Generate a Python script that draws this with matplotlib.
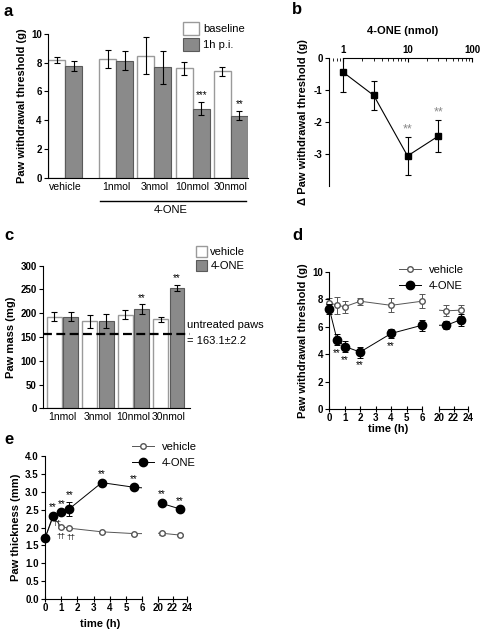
import numpy as np
import matplotlib
matplotlib.use("Agg")
import matplotlib.pyplot as plt
from matplotlib.lines import Line2D

plt.rcParams['font.family'] = ['Liberation Sans', 'DejaVu Sans']
plt.rcParams['font.size'] = 8

W, H = 480, 632

# ---- panel a: withdrawal threshold, baseline vs 1h p.i.
a_groups = ["vehicle", "1nmol", "3nmol", "10nmol", "30nmol"]
a_base = [8.2, 8.25, 8.5, 7.6, 7.4]
a_base_err = [0.2, 0.65, 1.3, 0.45, 0.3]
a_post = [7.8, 8.15, 7.7, 4.8, 4.3]
a_post_err = [0.35, 0.65, 1.15, 0.45, 0.3]
a_stars = ["", "", "", "***", "**"]

# ---- panel b: dose response
b_dose = [1, 3, 10, 30]
b_delta = [-0.45, -1.18, -3.07, -2.45]
b_err = [0.63, 0.46, 0.6, 0.51]
b_stars = ["", "", "**", "**"]

# ---- panel c: paw mass
c_groups = ["1nmol", "3nmol", "10nmol", "30nmol"]
c_vehicle = [193, 183, 197, 187]
c_vehicle_err = [9, 14, 9, 5]
c_one = [193, 183, 209, 253]
c_one_err = [9, 15, 10, 7]
c_stars = ["", "", "**", "**"]
c_untreated = 157

# ---- panel d: time course threshold
d_time = [0, 0.5, 1, 2, 4, 6, 21, 23]
d_vehicle = [7.75, 7.55, 7.45, 7.85, 7.55, 7.85, 7.15, 7.2]
d_vehicle_err = [0.3, 0.6, 0.45, 0.25, 0.5, 0.5, 0.4, 0.4]
d_one = [7.3, 5.05, 4.55, 4.15, 5.5, 6.1, 6.1, 6.5]
d_one_err = [0.35, 0.4, 0.4, 0.4, 0.35, 0.4, 0.3, 0.45]
d_stars = ["", "**", "**", "**", "**", "", "", ""]

# ---- panel e: paw thickness
e_time = [0, 0.5, 1, 1.5, 3.5, 5.5, 20.5, 23]
e_vehicle = [1.7, 2.3, 2.02, 1.98, 1.88, 1.83, 1.84, 1.79]
e_vehicle_err = [0.03, 0.03, 0.03, 0.03, 0.03, 0.03, 0.04, 0.03]
e_one = [1.7, 2.33, 2.43, 2.52, 3.25, 3.12, 2.67, 2.52]
e_one_err = [0.05, 0.05, 0.05, 0.2, 0.05, 0.05, 0.08, 0.05]
e_stars = ["", "**", "**", "**", "**", "**", "**", "**"]
e_dagger_t = [0.72, 1.0, 1.58]
e_dagger_y = [2.1, 1.75, 1.71]

fig = plt.figure(figsize=(W / 100, H / 100), dpi=100)


def px_axes(l, t, r, b):
    return fig.add_axes([l / W, 1 - b / H, (r - l) / W, (b - t) / H])


def style(ax):
    for s in ["top", "right"]:
        ax.spines[s].set_visible(False)
    for s in ["left", "bottom"]:
        ax.spines[s].set_linewidth(0.8)
    ax.tick_params(direction="out", length=3, width=0.8, pad=1.5)
    for lab in ax.get_yticklabels():
        lab.set_fontweight("bold")
        lab.set_fontsize(7)


WHITE_EDGE = "#9a9a9a"
GRAY = "#8a8a8a"
GRAY_EDGE = "#5a5a5a"

# ======== a ========
ax = px_axes(48, 34, 248, 177.5)
start = np.array([0, 3, 5.25, 7.5, 9.75])
ax.bar(start + 0.5, a_base, width=1, color="white", edgecolor=WHITE_EDGE, linewidth=1, label="baseline")
ax.bar(start + 1.5, a_post, width=1, color=GRAY, edgecolor=GRAY_EDGE, linewidth=0.8, label="1h p.i.")
ax.errorbar(start + 0.5, a_base, yerr=a_base_err, fmt="none", ecolor="black", elinewidth=0.8, capsize=2.5, capthick=0.8)
ax.errorbar(start + 1.5, a_post, yerr=a_post_err, fmt="none", ecolor="black", elinewidth=0.8, capsize=2.5, capthick=0.8)
for i, s in enumerate(a_stars):
    if s:
        ax.text(start[i] + 1.5, a_post[i] + a_post_err[i] + 0.15, s, ha="center", va="bottom", fontsize=7)
ax.set_xlim(0, 11.75)
ax.set_ylim(0, 10)
ax.set_yticks([0, 2, 4, 6, 8, 10])
ax.set_xticks(start + 1)
ax.set_xticklabels(a_groups, fontsize=7.5)
style(ax)
ax.tick_params(axis="x", length=0, pad=3)
ax.set_ylabel("Paw withdrawal threshold (g)", fontweight="bold", fontsize=8, labelpad=3)
fig.legend(*ax.get_legend_handles_labels(), loc="upper left", bbox_to_anchor=(183 / W, 1 - 22 / H),
           frameon=False, fontsize=8, handlelength=1.4, handleheight=1.4, borderaxespad=0, borderpad=0,
           handletextpad=0.4, labelspacing=0.3)
fig.add_artist(Line2D([100 / W, 246 / W], [1 - 201 / H, 1 - 201 / H], color="black", linewidth=1))
fig.text(171 / W, 1 - 210 / H, "4-ONE", ha="center", va="center", fontsize=8)

# ======== b ========
ax = px_axes(329, 57.7, 476, 185.7)
ax.errorbar(b_dose, b_delta, yerr=b_err, fmt="-s", color="black", markersize=4.5, linewidth=0.8,
            elinewidth=0.8, capsize=2.5, capthick=0.8)
for x, y, e, s in zip(b_dose, b_delta, b_err, b_stars):
    if s:
        ax.text(x, y + e + 0.05, s, ha="center", va="bottom", fontsize=9, color="#888888")
ax.set_xscale("log")
ax.set_xlim(0.607, 115)
ax.set_ylim(-4, 0)
ax.spines["right"].set_visible(False)
ax.spines["bottom"].set_visible(False)
ax.spines["top"].set_bounds(1, 100)
ax.spines["left"].set_bounds(-4, 0)
ax.spines["top"].set_linewidth(0.8)
ax.spines["left"].set_linewidth(0.8)
ax.xaxis.tick_top()
ax.xaxis.set_label_position("top")
ax.set_xticks([1, 10, 100])
ax.set_xticklabels(["1", "10", "100"], fontweight="bold", fontsize=7)
ax.set_yticks([0, -1, -2, -3])
ax.set_yticklabels(["0", "-1", "-2", "-3"], fontweight="bold", fontsize=7)
ax.tick_params(axis="x", which="major", direction="in", length=3, width=0.8, pad=2)
ax.tick_params(axis="x", which="minor", direction="in", length=2, width=0.6)
ax.tick_params(axis="y", direction="out", length=3, width=0.8, pad=1.5)
ax.set_xlabel("4-ONE (nmol)", fontweight="bold", fontsize=8, labelpad=8)
ax.set_ylabel("\u0394 Paw withdrawal threshold (g)", fontweight="bold", fontsize=8, labelpad=4)

# ======== c ========
ax = px_axes(43, 265.7, 190, 408.3)
g = np.arange(len(c_groups))
bw = 0.42
off = 0.232
ax.bar(g - off, c_vehicle, width=bw, color="white", edgecolor=WHITE_EDGE, linewidth=1, label="vehicle")
ax.bar(g + off, c_one, width=bw, color=GRAY, edgecolor=GRAY_EDGE, linewidth=0.8, label="4-ONE")
ax.errorbar(g - off, c_vehicle, yerr=c_vehicle_err, fmt="none", ecolor="black", elinewidth=0.8, capsize=2.5, capthick=0.8)
ax.errorbar(g + off, c_one, yerr=c_one_err, fmt="none", ecolor="black", elinewidth=0.8, capsize=2.5, capthick=0.8)
for i, s in enumerate(c_stars):
    if s:
        ax.text(g[i] + off, c_one[i] + c_one_err[i] + 3, s, ha="center", va="bottom", fontsize=7)
ax.axhline(c_untreated, color="black", linestyle=(0, (4, 2)), linewidth=1.6)
ax.set_xlim(-0.55, 3.6)
ax.set_ylim(0, 300)
ax.set_yticks(np.arange(0, 301, 50))
ax.set_xticks(g)
ax.set_xticklabels(c_groups, fontsize=7.5)
style(ax)
ax.tick_params(axis="x", length=0, pad=3)
ax.set_ylabel("Paw mass (mg)", fontweight="bold", fontsize=8, labelpad=3)
fig.legend(*ax.get_legend_handles_labels(), loc="upper left", bbox_to_anchor=(196 / W, 1 - 246 / H),
           frameon=False, fontsize=8, handlelength=1.0, handleheight=1.2, borderaxespad=0, borderpad=0,
           handletextpad=0.3, labelspacing=0.2)
fig.text(187 / W, 1 - 325 / H, "untreated paws", ha="left", va="center", fontsize=8)
fig.text(187 / W, 1 - 341 / H, "= 163.1\u00b12.2", ha="left", va="center", fontsize=8)


# ======== d and e: broken time axes ========
def draw_series(a, lo, hi, t, y, yerr, mfc, mec, color, ms, z):
    a.plot(t, y, "-", color=color, linewidth=0.7, zorder=z)
    keep = [i for i, x in enumerate(t) if lo <= x <= hi]
    a.errorbar([t[i] for i in keep], [y[i] for i in keep], yerr=[yerr[i] for i in keep], fmt="o",
               color=color, mfc=mfc, mec=mec, markersize=ms, elinewidth=0.7, capsize=2, capthick=0.7,
               zorder=z + 0.5, clip_on=False)


def time_panel(l1, r1, l2, r2, top, bottom, ylim, yticks, t, veh, veh_err, one, one_err, stars,
               star_below, ylabel):
    axl = px_axes(l1, top, r1, bottom)
    axr = px_axes(l2, top, r2, bottom)
    for a, lo, hi in ((axl, 0, 6), (axr, 20, 24)):
        draw_series(a, lo, hi, t, veh, veh_err, "white", "#555555", "#555555", 4, 2)
        draw_series(a, lo, hi, t, one, one_err, "black", "black", "black", 6, 3)
        a.set_xlim(lo, hi)
        a.set_ylim(*ylim)
    style(axl)
    axl.set_yticks(yticks)
    for lab in axl.get_yticklabels():
        lab.set_fontweight("bold")
        lab.set_fontsize(7)
    xt = [0, 1, 2, 3, 4, 5, 6]
    axl.set_xticks(xt)
    axl.set_xticklabels([str(x) for x in xt], fontweight="bold", fontsize=7)
    axl.tick_params(axis="x", direction="inout", length=4, width=0.8, pad=1)
    for s in ["top", "right", "left"]:
        axr.spines[s].set_visible(False)
    axr.spines["bottom"].set_linewidth(0.8)
    axr.set_yticks([])
    axr.set_xticks([20, 22, 24])
    axr.set_xticklabels(["20", "22", "24"], fontweight="bold", fontsize=7)
    axr.tick_params(axis="x", direction="inout", length=4, width=0.8, pad=1)
    axl.set_ylabel(ylabel, fontweight="bold", fontsize=8, labelpad=3)
    span = ylim[1] - ylim[0]
    for x, y, ye, s in zip(t, one, one_err, stars):
        if not s:
            continue
        a = axl if x <= 6 else axr
        if star_below:
            a.text(x, y - ye - 0.02 * span, s, ha="center", va="top", fontsize=7)
        else:
            a.text(x, y + ye + 0.01 * span, s, ha="center", va="bottom", fontsize=7)
    return axl, axr


def time_legend(x, y):
    h = [Line2D([], [], color="#555555", marker="o", mfc="white", mec="#555555", markersize=4, linewidth=0.7),
         Line2D([], [], color="black", marker="o", mfc="black", markersize=6, linewidth=0.7)]
    fig.legend(h, ["vehicle", "4-ONE"], loc="upper left", bbox_to_anchor=(x / W, 1 - y / H), frameon=False,
               fontsize=8, handlelength=2.0, handletextpad=0.7, borderaxespad=0, borderpad=0, labelspacing=0.5)


axl, axr = time_panel(329.3, 422, 439.3, 467.7, 271.7, 409, (0, 10), [0, 2, 4, 6, 8, 10],
                      d_time, d_vehicle, d_vehicle_err, d_one, d_one_err, d_stars, True,
                      "Paw withdrawal threshold (g)")
fig.text(388 / W, 1 - 429 / H, "time (h)", ha="center", va="center", fontsize=8, fontweight="bold")
time_legend(399, 265)

axl, axr = time_panel(45, 142.3, 158.3, 186.7, 455.7, 599.3, (0, 4.0), np.arange(0, 4.01, 0.5),
                      e_time, e_vehicle, e_vehicle_err, e_one, e_one_err, e_stars, False,
                      "Paw thickness (mm)")
axl.set_yticklabels(["%.1f" % v for v in np.arange(0, 4.01, 0.5)], fontweight="bold", fontsize=7)
for x, y in zip(e_dagger_t, e_dagger_y):
    axl.text(x, y, "\u2020\u2020", ha="center", va="center", fontsize=6, zorder=5)
fig.text(100 / W, 1 - 624 / H, "time (h)", ha="center", va="center", fontsize=8, fontweight="bold")
time_legend(132, 442)

# panel letters
for letter, x, y in [("a", 4, 12), ("b", 292, 10), ("c", 4, 236), ("d", 292, 236), ("e", 4, 440)]:
    fig.text(x / W, 1 - y / H, letter, ha="left", va="center", fontsize=12, fontweight="bold")

fig.savefig("out.png", dpi=100)
